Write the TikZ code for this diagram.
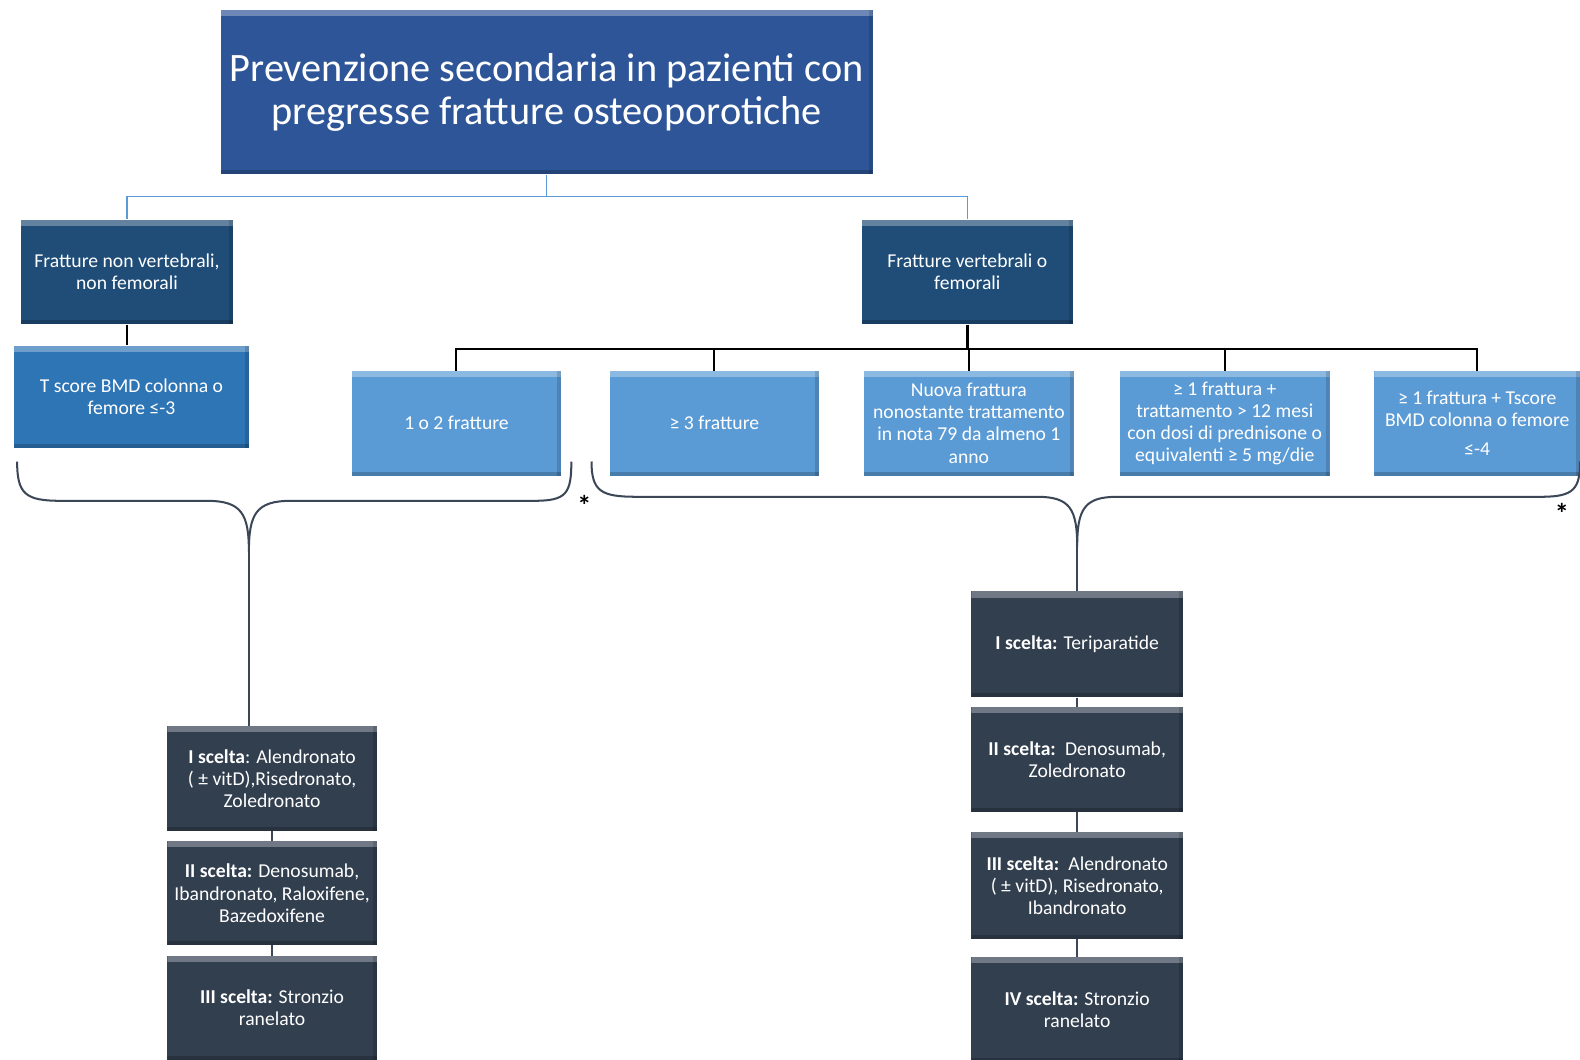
\documentclass[tikz,border=0pt]{standalone}
\usepackage{fontspec}
\setmainfont{Carlito}
\usepackage{tikz}
\usepackage{xcolor}
\newlength{\boxwidth}
\newlength{\boxheight}
\setlength{\boxwidth}{208pt}
\setlength{\boxheight}{104pt}
\definecolor{background}{RGB}{255, 255, 255}
\definecolor{titleblue}{HTML}{2E5597}
\definecolor{groupblue}{HTML}{1F4D78}
\definecolor{midblue}{HTML}{2E75B6}
\definecolor{lightblue}{HTML}{5B9BD5}
\definecolor{choiceslate}{HTML}{323F4F}
\definecolor{linkblue}{HTML}{5B9BD5}
\definecolor{bracegrey}{HTML}{3B4656}
\tikzset{
	bevel/.style={path picture={
		\fill[white,opacity=0.3] (path picture bounding box.north west) rectangle ([yshift=-6pt]path picture bounding box.north east);
		\fill[black,opacity=0.2] (path picture bounding box.south west) rectangle ([yshift=4pt]path picture bounding box.south east);
		\fill[black,opacity=0.15] (path picture bounding box.north east) rectangle ([xshift=-4pt]path picture bounding box.south east);
	}},
	box/.style={rectangle,text=white,align=center,inner sep=2pt,minimum width=\boxwidth,minimum height=\boxheight,font=\fontsize{19.5}{22}\selectfont,bevel},
	titlebox/.style={box,fill=titleblue,minimum width=647pt,minimum height=163pt,font=\fontsize{40}{43}\selectfont},
	groupbox/.style={box,fill=groupblue,minimum width=210pt},
	thresholdbox/.style={box,fill=midblue,minimum width=233pt,minimum height=102pt},
	criterionbox/.style={box,fill=lightblue},
	choicebox/.style={box,fill=choiceslate},
	bluelink/.style={draw=linkblue,line width=1.6pt},
	blacklink/.style={draw=black,line width=2pt},
	choicelink/.style={draw=bracegrey,line width=2pt},
	bracelink/.style={draw=bracegrey,line width=2pt},
}
\begin{document}
\begin{tikzpicture}[x=1pt,y=-1pt]
				% Boundary box
				\fill[background] (0,0) rectangle (1568,1051);
				\useasboundingbox (0,0) rectangle (1568,1051);

				% Header
				\node[titlebox] (title) at (542.5,91.5) {Prevenzione secondaria in pazienti con\\pregresse fratture osteoporotiche};

				% Fracture groups
				\node[groupbox] (nonvert) at (126,270) {Fratture non vertebrali,\\non femorali};
				\node[groupbox] (vert) at (960,270) {Fratture vertebrali o\\femorali};
				\draw[bluelink] (title.south) -- ++(0,22) -| (nonvert.north);
				\draw[bluelink] (title.south) -- ++(0,22) -| (vert.north);

				% Criteria
				\node[thresholdbox] (tscore) at (130.5,394) {T score BMD colonna o\\femore ≤-3};
				\node[criterionbox] (onetwo) at (453,420) {1 o 2 fratture};
				\node[criterionbox] (three) at (709,420) {≥ 3 fratture};
				\node[criterionbox] (newfrac) at (961.5,420) {Nuova frattura\\nonostante trattamento\\in nota 79 da almeno 1\\anno};
				\node[criterionbox] (steroid) at (1215.5,420) {≥ 1 frattura +\\trattamento > 12 mesi\\con dosi di prednisone o\\equivalenti ≥ 5 mg/die};
				\node[criterionbox,minimum width=204pt] (tscorefour) at (1466,420) {≥ 1 frattura + Tscore\\BMD colonna o femore\\[6pt]≤-4};
				\draw[blacklink] (nonvert.south) -- (tscore.north -| nonvert.south);
				\draw[blacklink,line width=3pt] (vert.south) -- ++(0,24);
				\foreach \crit in {onetwo,three,newfrac,steroid,tscorefour}
					\draw[blacklink] (vert.south) ++(0,24) -| (\crit.north);

				% Braces
				\coordinate (lefttip) at (247,548);
				\coordinate (righttip) at (1069,543);
				\draw[bracelink] (17,458) .. controls (17,490) and (25,497) .. (60,497) -- (205,497) .. controls (240,497) and (247,510) .. (lefttip) .. controls (247,510) and (254,497) .. (289,497) -- (530,497) .. controls (562,497) and (567,490) .. (567,458);
				\draw[bracelink] (587,458) .. controls (587,488) and (597,493) .. (632,493) -- (1029,493) .. controls (1062,493) and (1069,505) .. (righttip) .. controls (1069,505) and (1076,493) .. (1109,493) -- (1530,493) .. controls (1562,493) and (1568,485) .. (1568,458);
				\node[font=\fontsize{28}{28}\selectfont\bfseries] (leftstar) at (580,502) {*};
				\node[font=\fontsize{28}{28}\selectfont\bfseries] (rightstar) at (1550,510) {*};

				% Therapy choices, left
				\node[choicebox] (leftfirst) at (270,772.5) {\textbf{I scelta}: Alendronato\\( ± vitD),Risedronato,\\Zoledronato};
				\node[choicebox,minimum height=103pt] (leftsecond) at (270,886.5) {\textbf{II scelta:} Denosumab,\\Ibandronato, Raloxifene,\\Bazedoxifene};
				\node[choicebox,minimum height=103pt] (leftthird) at (270,1000) {\textbf{III scelta:} Stronzio\\ranelato};
				\draw[choicelink] (lefttip) -- (lefttip |- leftfirst.north);
				\draw[choicelink] (leftfirst) -- (leftsecond);
				\draw[choicelink] (leftsecond) -- (leftthird);

				% Therapy choices, right
				\node[choicebox,minimum width=210pt,minimum height=105pt] (rightfirst) at (1069,639.5) {\textbf{I scelta:} Teriparatide};
				\node[choicebox,minimum width=210pt] (rightsecond) at (1069,754) {\textbf{II scelta:}\, Denosumab,\\Zoledronato};
				\node[choicebox,minimum width=210pt,minimum height=106pt] (rightthird) at (1069,879) {\textbf{III scelta:}\, Alendronato\\( ± vitD), Risedronato,\\Ibandronato};
				\node[choicebox,minimum width=210pt] (rightfourth) at (1069,1002) {\textbf{IV scelta:} Stronzio\\ranelato};
				\draw[choicelink] (righttip) -- (rightfirst.north);
				\draw[choicelink] (rightfirst) -- (rightsecond);
				\draw[choicelink] (rightsecond) -- (rightthird);
				\draw[choicelink] (rightthird) -- (rightfourth);
			\end{tikzpicture}
\end{document}
